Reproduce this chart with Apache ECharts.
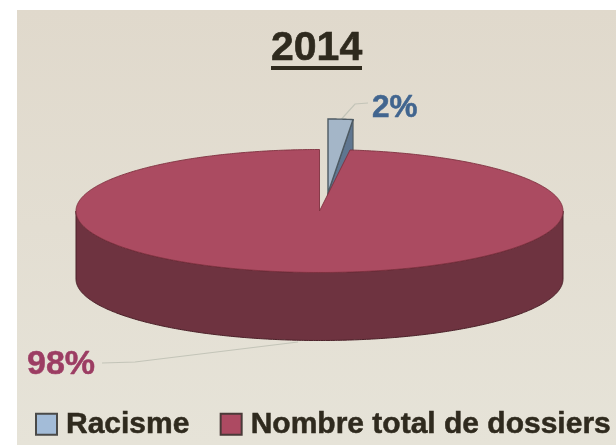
<!DOCTYPE html>
<html>
<head>
<meta charset="utf-8">
<style>html,body{margin:0;padding:0;background:#fff}#chart{width:616px;height:445px}</style>
<script src="https://cdn.jsdelivr.net/npm/echarts@6/dist/echarts.min.js"></script>
</head>
<body>
<div id="chart"></div>
<script>
// Share of complaint files in 2014
const chartTitle = '2014';
const categories = ['Racisme', 'Nombre total de dossiers'];
const shares = [2, 98];
const shareLabels = ['2%', '98%'];

const total = shares[0] + shares[1];
const sweep = shares[0] / total * Math.PI * 2;

// Tilted disc layout
const disc = { cx: 319.5, cy: 211, rx: 243.5, ry: 61.5, depth: 68 };
// The lifted slice is drawn a little larger than the disc, as if closer to the viewer
const lifted = { cx: 328, cy: 193, rx: 200, ry: 74, depth: 68 };
const font = 'bold {s}px "Liberation Sans", Arial, sans-serif';
const inkColor = '#2f2a1e';

function rimPoint(d, t, drop) {
  return [d.cx + d.rx * Math.sin(t), d.cy - d.ry * Math.cos(t) + (drop || 0)];
}
function arcPoints(d, from, to, drop) {
  const n = Math.max(2, Math.ceil(Math.abs(to - from) / 0.01));
  const pts = [];
  for (let i = 0; i <= n; i++) pts.push(rimPoint(d, from + (to - from) * i / n, drop));
  return pts;
}

function renderLiftedSlice() {
  const tip = [lifted.cx, lifted.cy];
  const a = rimPoint(lifted, 0);
  const b = rimPoint(lifted, sweep);
  const wall = [tip, b, rimPoint(lifted, sweep, lifted.depth), [tip[0], tip[1] + lifted.depth]];
  const top = [tip].concat(arcPoints(lifted, 0, sweep));
  return {
    type: 'group',
    children: [
      { type: 'polyline', shape: { points: [[(a[0] + b[0]) / 2 + 1, a[1]], [355, 104], [368, 103]] },
        style: { stroke: '#c3c4b8', lineWidth: 1.2, fill: null } },
      { type: 'polygon', shape: { points: wall },
        style: { fill: '#5f7690', stroke: '#4f5559', lineWidth: 1 } },
      { type: 'polygon', shape: { points: top },
        style: { fill: '#a4b6c8', stroke: '#4d5a63', lineWidth: 1.4 } },
      { type: 'text', x: 372, y: 92,
        style: { text: shareLabels[0], fill: '#41658f', font: font.replace('{s}', 31.5),
          stroke: '#41658f', lineWidth: 0.5 } }
    ]
  };
}

function renderMainSlice() {
  const centre = [disc.cx, disc.cy];
  const wall = arcPoints(disc, Math.PI / 2, Math.PI * 1.5)
    .concat(arcPoints(disc, Math.PI * 1.5, Math.PI / 2, disc.depth));
  const top = [centre].concat(arcPoints(disc, sweep, Math.PI * 2));
  return {
    type: 'group',
    children: [
      { type: 'polygon', shape: { points: wall },
        style: { fill: '#6e3340', stroke: '#4a2028', lineWidth: 1 } },
      { type: 'polygon', shape: { points: top },
        style: { fill: '#ab4b61', stroke: '#7f3140', lineWidth: 0.9 } },
      { type: 'polyline', shape: { points: [[102, 363], [135, 362], [298, 342]] },
        style: { stroke: '#c3c4b8', lineWidth: 1.2, fill: null } },
      { type: 'text', x: 27, y: 348,
        style: { text: shareLabels[1], fill: '#9c3d63', font: font.replace('{s}', 34),
          stroke: '#9c3d63', lineWidth: 0.5 } }
    ]
  };
}

const chart = echarts.init(document.getElementById('chart'), null, { renderer: 'canvas' });
chart.setOption({
  animation: false,
  backgroundColor: '#ffffff',
  graphic: [
    { type: 'rect', z: -10, shape: { x: 17, y: 10, width: 599, height: 435 },
      style: { fill: new echarts.graphic.LinearGradient(0, 0, 0, 1, [
        { offset: 0, color: '#e0d9cc' }, { offset: 1, color: '#e6e3d8' }]) } },
    { type: 'text', x: 271, y: 28,
      style: { text: chartTitle, fill: inkColor, font: font.replace('{s}', 41),
        stroke: inkColor, lineWidth: 0.6 } },
    { type: 'rect', shape: { x: 271, y: 66, width: 91, height: 4 }, style: { fill: inkColor } }
  ],
  legend: {
    left: 30, top: 404, width: 700, padding: 5, itemWidth: 21, itemHeight: 21, itemGap: 30,
    selectedMode: false, icon: 'rect',
    data: categories,
    textStyle: { fontFamily: '"Liberation Sans", Arial, sans-serif', fontWeight: 'bold',
      fontSize: 30, color: inkColor, textBorderColor: inkColor, textBorderWidth: 0.5,
      padding: [0, 0, 4, 4] }
  },
  series: [
    { type: 'custom', name: categories[0], coordinateSystem: 'none', silent: true,
      data: [[shares[0]]], renderItem: renderLiftedSlice,
      itemStyle: { color: '#a3bcd8', borderColor: '#4a4a48', borderWidth: 1.5 } },
    { type: 'custom', name: categories[1], coordinateSystem: 'none', silent: true,
      data: [[shares[1]]], renderItem: renderMainSlice,
      itemStyle: { color: '#ad4a62', borderColor: '#4a3a38', borderWidth: 1.5 } }
  ]
});
</script>
</body>
</html>
